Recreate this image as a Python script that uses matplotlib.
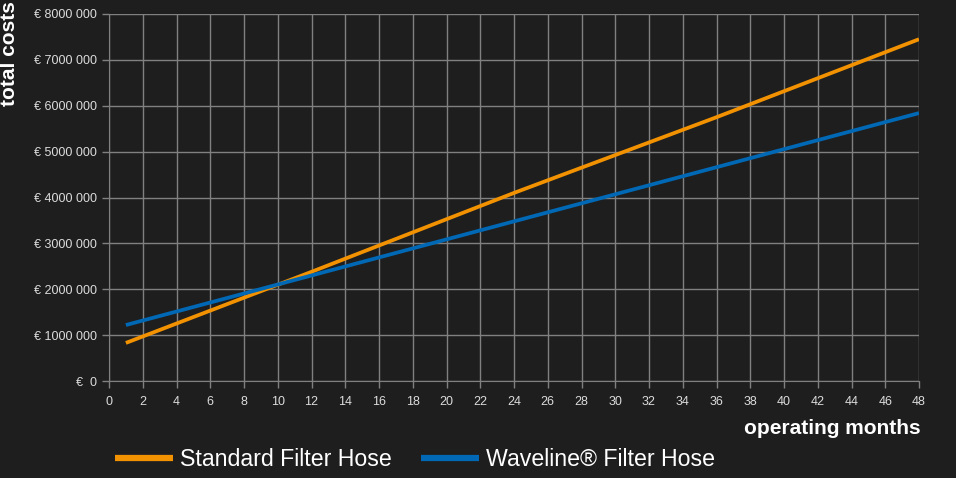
import matplotlib
matplotlib.use("Agg")
import matplotlib.pyplot as plt
from matplotlib.ticker import FuncFormatter

plt.rcParams["font.family"] = ["Liberation Sans", "DejaVu Sans"]

months = [1, 12, 24, 36, 48]
standard = [830000, 2380000, 4100000, 5750000, 7450000]
waveline = [1220000, 2300000, 3480000, 4660000, 5840000]
series_names = ["Standard Filter Hose", "Waveline® Filter Hose"]
x_ticks = list(range(0, 49, 2))
y_ticks = [0, 1000000, 2000000, 3000000, 4000000, 5000000, 6000000, 7000000, 8000000]

bg = "#1e1e1e"
grid_c = "#808080"
txt_c = "#dcdcdc"

fig = plt.figure(figsize=(9.56, 4.78), dpi=100, facecolor=bg)
ax = fig.add_axes([109/956, 1-381/478, (919-109)/956, (381-14)/478], facecolor=bg)

ax.plot(months, standard, color="#f39200", lw=2.7, solid_capstyle="butt", label=series_names[0], zorder=3)
ax.plot(months, waveline, color="#0068b4", lw=2.7, solid_capstyle="butt", label=series_names[1], zorder=3)

ax.set_xlim(0, 48)
ax.set_ylim(0, 8000000)
ax.set_xticks(x_ticks)
ax.set_yticks(y_ticks)

def fmt(v, pos):
    v = int(round(v))
    if v == 0:
        return "€  0"
    return f"€ {v//1000} {v%1000:03d}"

ax.yaxis.set_major_formatter(FuncFormatter(fmt))
ax.grid(True, color=grid_c, lw=1)
for s in ax.spines.values():
    s.set_visible(False)
ax.spines["left"].set_visible(True)
ax.spines["bottom"].set_visible(True)
ax.spines["left"].set_color(grid_c)
ax.spines["bottom"].set_color(grid_c)
ax.tick_params(axis="both", colors=grid_c, length=5, width=1, labelcolor=txt_c, labelsize=9)
ax.tick_params(axis="x", pad=6)

fig.text(10/956, 1-54/478, "total costs", rotation=90, ha="center", va="center",
         color="white", fontsize=15, fontweight="bold")
fig.text(921/956, 1-428/478, "operating months", ha="right", va="center",
         color="white", fontsize=15, fontweight="bold")

leg = fig.legend(loc="center", bbox_to_anchor=(415/956, 1-460/478), ncol=2, frameon=False,
                 fontsize=16.7, labelcolor="white", handlelength=2.5, columnspacing=1.3,
                 handletextpad=0.3)
for h in leg.get_lines():
    h.set_linewidth(4.5)

fig.savefig("out.png", dpi=100, facecolor=bg)
